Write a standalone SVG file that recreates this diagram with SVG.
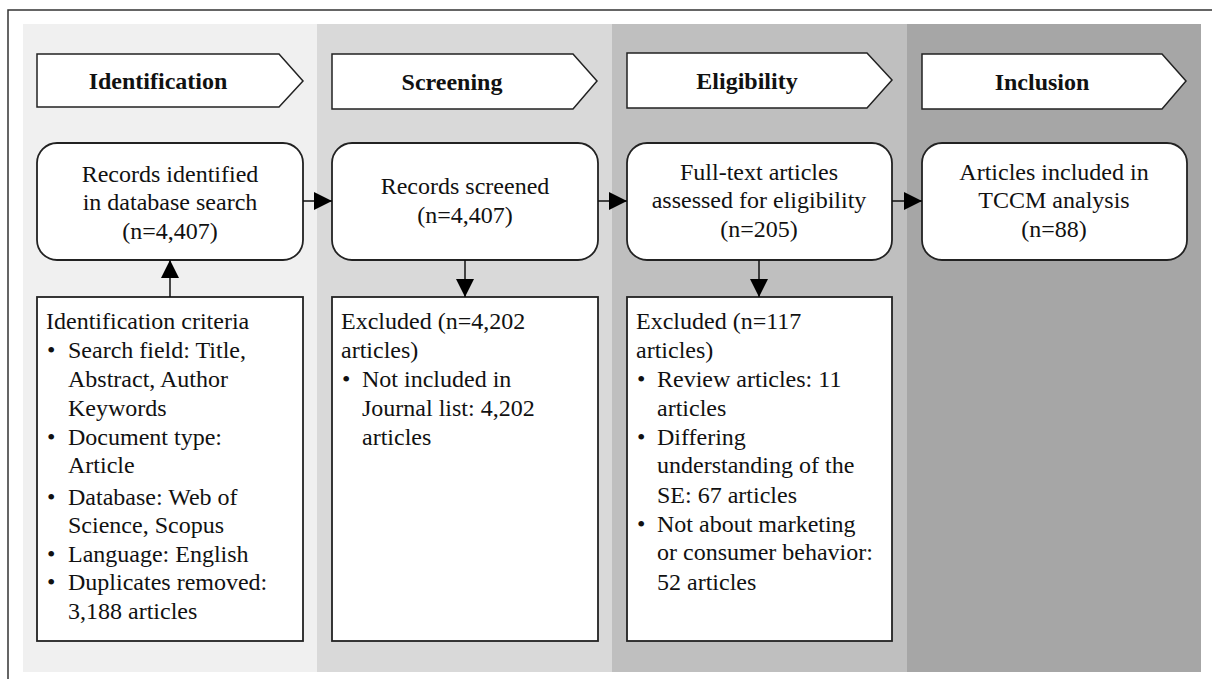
<svg xmlns="http://www.w3.org/2000/svg" width="1212" height="679" viewBox="0 0 1212 679">
  <style>
    text { font-family: "Liberation Serif", "Times New Roman", serif; font-size: 24px; fill: #111; }
    .hdr { font-weight: bold; text-anchor: middle; }
    .mid { text-anchor: middle; }
    .chev { fill: #fff; stroke: #222; stroke-width: 1.5; }
    .box { fill: #fff; stroke: #222; stroke-width: 1.8; }
    .edge { stroke: #111; stroke-width: 1.5; fill: none; marker-end: url(#arrow); }
  </style>
  <defs>
    <marker id="arrow" viewBox="0 0 18 18" refX="18" refY="9" markerWidth="18" markerHeight="18" markerUnits="userSpaceOnUse" orient="auto">
      <path d="M0,0 L18,9 L0,18 Z" fill="#000"/>
    </marker>
  </defs>

  <!-- frame -->
  <rect x="8" y="10" width="1220" height="690" fill="#fff" stroke="#333" stroke-width="1.5"/>

  <!-- phase bands -->
  <g id="bands">
    <rect x="23" y="24" width="294" height="648" fill="#f0f0f0"/>
    <rect x="317" y="24" width="295" height="648" fill="#d9d9d9"/>
    <rect x="612" y="24" width="295" height="648" fill="#bfbfbf"/>
    <rect x="907" y="24" width="294" height="648" fill="#a6a6a6"/>
  </g>

  <!-- phase headers -->
  <g id="hdr-identification">
    <path class="chev" d="M37,54 H279 L303,81 L279,107 H37 Z"/>
    <text class="hdr" x="158" y="89">Identification</text>
  </g>
  <g id="hdr-screening">
    <path class="chev" d="M332,54 H573 L597,81 L573,109 H332 Z"/>
    <text class="hdr" x="452" y="90">Screening</text>
  </g>
  <g id="hdr-eligibility">
    <path class="chev" d="M627,53 H867 L892,80 L867,108 H627 Z"/>
    <text class="hdr" x="747" y="89">Eligibility</text>
  </g>
  <g id="hdr-inclusion">
    <path class="chev" d="M922,54 H1162 L1186,81 L1162,109 H922 Z"/>
    <text class="hdr" x="1042" y="90">Inclusion</text>
  </g>

  <!-- main flow boxes -->
  <g id="identified">
    <rect class="box" x="37" y="143" width="266" height="117" rx="20"/>
    <text class="mid" x="170" y="182">Records identified</text>
    <text class="mid" x="170" y="210">in database search</text>
    <text class="mid" x="170" y="239">(n=4,407)</text>
  </g>
  <g id="screened">
    <rect class="box" x="332" y="143" width="266" height="117" rx="20"/>
    <text class="mid" x="465" y="194">Records screened</text>
    <text class="mid" x="465" y="223">(n=4,407)</text>
  </g>
  <g id="fulltext">
    <rect class="box" x="627" y="143" width="265" height="117" rx="20"/>
    <text class="mid" x="759" y="180">Full-text articles</text>
    <text class="mid" x="759" y="208">assessed for eligibility</text>
    <text class="mid" x="759" y="237">(n=205)</text>
  </g>
  <g id="included">
    <rect class="box" x="922" y="143" width="265" height="117" rx="20"/>
    <text class="mid" x="1054" y="180">Articles included in</text>
    <text class="mid" x="1054" y="208">TCCM analysis</text>
    <text class="mid" x="1054" y="237">(n=88)</text>
  </g>

  <!-- detail boxes -->
  <g id="criteria">
    <rect class="box" x="37" y="297" width="266" height="344"/>
    <text x="46" y="329">Identification criteria</text>
    <text x="47" y="358">•</text><text x="68" y="358">Search field: Title,</text>
    <text x="68" y="387">Abstract, Author</text>
    <text x="68" y="416">Keywords</text>
    <text x="47" y="445">•</text><text x="68" y="445">Document type:</text>
    <text x="68" y="473">Article</text>
    <text x="47" y="505">•</text><text x="68" y="505">Database: Web of</text>
    <text x="68" y="533">Science, Scopus</text>
    <text x="47" y="562">•</text><text x="68" y="562">Language: English</text>
    <text x="47" y="590">•</text><text x="68" y="590">Duplicates removed:</text>
    <text x="68" y="619">3,188 articles</text>
  </g>
  <g id="excluded-screening">
    <rect class="box" x="332" y="297" width="266" height="344"/>
    <text x="341" y="329">Excluded (n=4,202</text>
    <text x="341" y="358">articles)</text>
    <text x="342" y="387">•</text><text x="362" y="387">Not included in</text>
    <text x="362" y="416">Journal list: 4,202</text>
    <text x="362" y="445">articles</text>
  </g>
  <g id="excluded-eligibility">
    <rect class="box" x="627" y="297" width="265" height="344"/>
    <text x="636" y="329">Excluded (n=117</text>
    <text x="636" y="358">articles)</text>
    <text x="637" y="387">•</text><text x="657" y="387">Review articles: 11</text>
    <text x="657" y="416">articles</text>
    <text x="637" y="445">•</text><text x="657" y="445">Differing</text>
    <text x="657" y="473">understanding of the</text>
    <text x="657" y="503">SE: 67 articles</text>
    <text x="637" y="532">•</text><text x="657" y="532">Not about marketing</text>
    <text x="657" y="560">or consumer behavior:</text>
    <text x="657" y="590">52 articles</text>
  </g>

  <!-- connectors -->
  <g id="connectors">
    <line class="edge" x1="303" y1="201" x2="332" y2="201"/>
    <line class="edge" x1="598" y1="201" x2="627" y2="201"/>
    <line class="edge" x1="892" y1="201" x2="922" y2="201"/>
    <line class="edge" x1="170" y1="297" x2="170" y2="260"/>
    <line class="edge" x1="465" y1="260" x2="465" y2="297"/>
    <line class="edge" x1="759" y1="260" x2="759" y2="297"/>
  </g>
</svg>
